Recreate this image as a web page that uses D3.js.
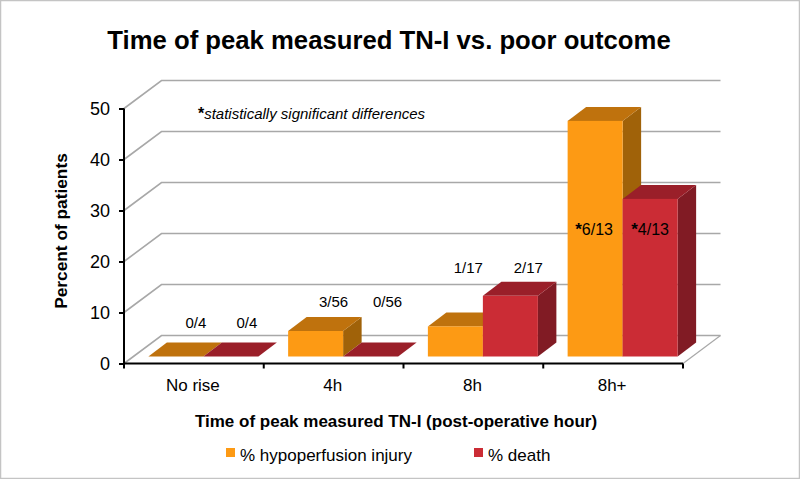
<!DOCTYPE html>
<html><head><meta charset="utf-8">
<script src="https://cdn.jsdelivr.net/npm/d3@7"></script>
<style>html,body{margin:0;padding:0;background:#fff}svg{display:block}text{font-family:"Liberation Sans",Arial,sans-serif;fill:#000}</style>
</head><body><div id="c"></div>
<script>
const categories = ["No rise","4h","8h","8h+"];
const seriesNames = ["% hypoperfusion injury","% death"];
const injury = [0,5.0,5.9,46.2];
const death = [0,0,11.9,30.9];
const injuryLabels = ["0/4","3/56","1/17","*6/13"];
const deathLabels = ["0/4","0/56","2/17","*4/13"];
const yTicks = [0,10,20,30,40,50];

const W=800,H=479;
const svg=d3.select("#c").append("svg").attr("width",W).attr("height",H);
svg.append("rect").attr("x",0.5).attr("y",0.5).attr("width",W-1).attr("height",H-1).attr("fill","#fff").attr("stroke","#c4c4c4").attr("stroke-width",1.5);

const x=d3.scaleBand().domain(categories).range([124,683]);
const y=d3.scaleLinear().domain([0,50]).range([363.5,108.5]);
const wallDx=37.5,wallDy=-28;
const barW=55,barDx=18.5,barDy=-14,baseDx=9.5,baseDy=-7;
const colors=[{f:"#fd9a14",t:"#bf720d",s:"#a06209"},{f:"#cb2c35",t:"#9a1f29",s:"#811b24"}];

const g=svg.append("g");
yTicks.forEach(t=>{
  g.append("polyline").attr("fill","none").attr("stroke","#a8a8a8").attr("stroke-width",1.6)
   .attr("points",[[x.range()[0],y(t)],[x.range()[0]+wallDx,y(t)+wallDy],[x.range()[1]+wallDx,y(t)+wallDy]].join(" "));
});
g.append("line").attr("x1",x.range()[1]).attr("y1",y(0)).attr("x2",x.range()[1]+wallDx).attr("y2",y(0)+wallDy).attr("stroke","#a8a8a8").attr("stroke-width",1.2);

function bar(cat,i,v){
  const c=colors[i];
  const x0=x(cat)+x.bandwidth()/2+baseDx-barW+i*barW, x1=x0+barW;
  const yb=y(0)+baseDy, yt=y(v)+baseDy;
  const b=g.append("g");
  b.append("polygon").attr("fill",c.s).attr("points",[[x1,yt],[x1+barDx,yt+barDy],[x1+barDx,yb+barDy],[x1,yb]].join(" "));
  b.append("polygon").attr("fill",c.t).attr("points",[[x0,yt],[x0+barDx,yt+barDy],[x1+barDx,yt+barDy],[x1,yt]].join(" "));
  if(v>0) b.append("rect").attr("x",x0).attr("y",yt).attr("width",barW).attr("height",yb-yt).attr("fill",c.f);
}
categories.forEach((cat,k)=>{bar(cat,0,injury[k]);});
categories.forEach((cat,k)=>{bar(cat,1,death[k]);});

const font='"Liberation Sans",Arial,sans-serif';
const yAxis=d3.axisLeft(y).tickValues(yTicks).tickSize(5).tickPadding(9);
const ya=svg.append("g").attr("transform",`translate(${x.range()[0]},0)`).call(yAxis);
ya.selectAll("path,line").attr("stroke","#000").attr("stroke-width",2);
ya.select("path").attr("d",`M0,${y(50)}V${y(0)}`);
ya.selectAll("text").attr("font-size",18).attr("font-family",font);
const xAxis=d3.axisBottom(x).tickSize(0);
const xa=svg.append("g").attr("transform",`translate(-1,${y(0)})`).call(xAxis);
xa.select("path").attr("stroke","#000").attr("stroke-width",2).attr("d",`M${x.range()[0]},0H${x.range()[1]+1}`);
xa.selectAll("line").remove();
xa.selectAll("text").attr("font-size",17).attr("font-family",font).attr("dy",0).attr("y",27);
d3.range(5).forEach(i=>{
  const px=x.range()[0]+i*x.step();
  svg.append("line").attr("x1",px).attr("x2",px).attr("y1",y(0)).attr("y2",y(0)+5).attr("stroke","#000").attr("stroke-width",2);
});

const txt=(s,px,py,size,o={})=>{
  const t=svg.append("text").attr("x",px).attr("y",py).attr("font-size",size).attr("text-anchor",o.a||"middle");
  if(o.w)t.attr("font-weight",o.w); if(o.s)t.attr("font-style",o.s); if(o.r)t.attr("transform",`rotate(-90 ${px} ${py})`);
  return t.text(s);
};
// label placement, relative to the centre of each group and the front zero line
const labelDx=[[2,53],[0,54],[-5,55],[-19,37]];
const labelDy=[-35.5,-56.5,-90.5,-128.5];
const withStar=(sel,s)=>{
  sel.text(null);
  if(s[0]==="*"){sel.append("tspan").attr("font-weight","bold").attr("font-size",17).text("*");sel.append("tspan").text(s.slice(1));}
  else sel.text(s);
};
categories.forEach((cat,k)=>{
  const cx=x(cat)+x.bandwidth()/2, ly=y(0)+labelDy[k], fs=k===3?16:15;
  withStar(txt("",cx+labelDx[k][0],ly,fs),injuryLabels[k]);
  withStar(txt("",cx+labelDx[k][1],ly,fs),deathLabels[k]);
});

txt("Time of peak measured TN-I vs. poor outcome",389,49,25.7,{w:"bold"});
txt("Percent of patients",67,231,17.3,{w:"bold",r:true});
txt("Time of peak measured TN-I (post-operative hour)",396,427,17,{w:"bold"});
const note=txt("",311.5,119,15,{s:"italic"});
note.append("tspan").attr("font-weight","bold").attr("font-style","normal").attr("font-size",16).text("*");
note.append("tspan").text("statistically significant differences");

const legX=[226,474];
seriesNames.forEach((n,i)=>{
  svg.append("rect").attr("x",legX[i]).attr("y",448).attr("width",9).attr("height",9).attr("fill",colors[i].f);
  txt(n,legX[i]+14,461,17,{a:"start"});
});
</script></body></html>
